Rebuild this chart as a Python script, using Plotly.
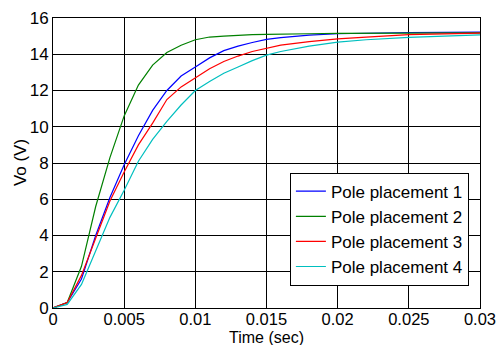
import plotly.graph_objects as go

t = [0, 0.001, 0.002, 0.003, 0.004, 0.005, 0.006, 0.007, 0.008, 0.009, 0.010,
     0.011, 0.012, 0.013, 0.014, 0.015, 0.016, 0.018, 0.020, 0.022, 0.025, 0.030]

pp1 = [0, 0.3, 1.6, 4.0, 6.1, 7.9, 9.5, 10.9, 12.0, 12.8, 13.3,
       13.8, 14.2, 14.45, 14.65, 14.82, 14.92, 15.05, 15.13, 15.17, 15.2, 15.22]
pp2 = [0, 0.3, 2.3, 5.6, 8.3, 10.6, 12.3, 13.4, 14.1, 14.5, 14.8,
       14.95, 15.0, 15.05, 15.08, 15.1, 15.12, 15.13, 15.15, 15.16, 15.17, 15.18]
pp3 = [0, 0.3, 1.8, 3.9, 5.9, 7.5, 9.0, 10.2, 11.5, 12.2, 12.7,
       13.2, 13.6, 13.9, 14.15, 14.33, 14.5, 14.7, 14.85, 14.95, 15.08, 15.17]
pp4 = [0, 0.2, 1.3, 3.2, 5.0, 6.5, 8.1, 9.3, 10.3, 11.2, 12.0,
       12.5, 12.95, 13.3, 13.65, 13.95, 14.15, 14.45, 14.67, 14.8, 14.93, 15.07]

x_ticks = [0, 0.005, 0.01, 0.015, 0.02, 0.025, 0.03]
x_labels = ["0", "0.005", "0.01", "0.015", "0.02", "0.025", "0.03"]
y_ticks = [0, 2, 4, 6, 8, 10, 12, 14, 16]

names = ["Pole placement 1", "Pole placement 2", "Pole placement 3", "Pole placement 4"]
colors = ["#0000FF", "#008000", "#FF0000", "#00BFBF"]
series = [pp1, pp2, pp3, pp4]

fig = go.Figure()
for n, c, s in zip(names, colors, series):
    fig.add_trace(go.Scatter(x=t, y=s, mode="lines", name=n,
                             line=dict(color=c, width=1.2)))

fam = "Liberation Sans, Arial, sans-serif"
font = dict(family=fam, size=17, color="black")
axis_common = dict(showline=True, linecolor="black", linewidth=1, mirror="allticks",
                   ticks="inside", ticklen=4, tickcolor="black",
                   showgrid=True, gridcolor="black", gridwidth=1,
                   zeroline=False, automargin=False,
                   ticklabeloverflow="allow")

fig.update_layout(
    width=496, height=345,
    margin=dict(l=53, r=16, t=18, b=37),
    paper_bgcolor="white", plot_bgcolor="white",
    font=font,
    xaxis=dict(range=[0, 0.0300001], tickmode="array", tickvals=x_ticks,
               ticktext=x_labels, ticklabelstandoff=-4,
               tickfont=dict(family=fam, size=16.5, color="black"), **axis_common),
    yaxis=dict(range=[0, 16.00001], tickmode="array", tickvals=y_ticks,
               tickfont=font, **axis_common),
    legend=dict(x=0.974, y=0.077, xanchor="right", yanchor="bottom",
                bgcolor="white", bordercolor="black", borderwidth=1,
                font=font, tracegroupgap=0, itemwidth=30),
    showlegend=True,
    annotations=[
        dict(text="Time (sec)", xref="paper", yref="paper", x=0.5, y=-0.1,
             xanchor="center", yanchor="middle", showarrow=False,
             font=dict(family=fam, size=16, color="black")),
        dict(text="Vo (V)", xref="paper", yref="paper", x=-0.077, y=0.5,
             xanchor="center", yanchor="middle", textangle=-90, showarrow=False,
             font=dict(family=fam, size=17, color="black")),
    ],
)

fig.write_html("out.html")
